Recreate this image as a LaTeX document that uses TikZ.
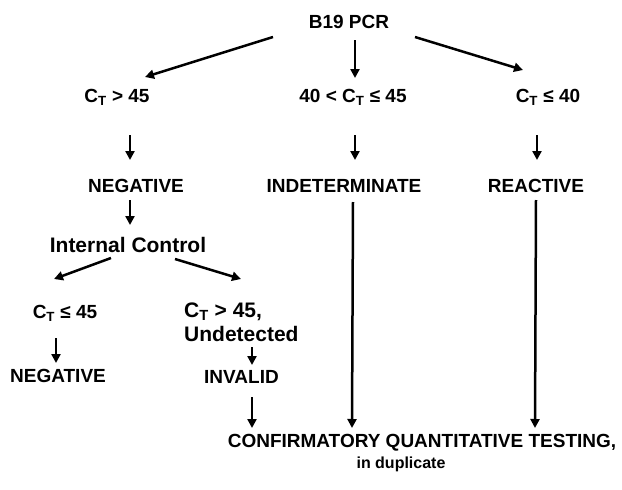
\documentclass[tikz,border=0pt]{standalone}
\usepackage{fontspec}
\setmainfont{Liberation Sans}
\usetikzlibrary{arrows.meta}
\newcommand{\ct}{C\textsubscript{T}}
\begin{document}
\begin{tikzpicture}[x=1pt,y=-1pt,
  lbl/.style={font=\fontsize{19}{24}\selectfont\bfseries, inner sep=0pt, anchor=base},
  widelbl/.style={lbl, font=\fontsize{21}{24}\selectfont\bfseries},
  arr/.style={line width=2.5pt, -{Triangle[length=9pt,width=9pt]}}]
\useasboundingbox[fill=white] (0,0) rectangle (622,490);
% nodes
\node[lbl] (pcr) at (349,28) {B19 PCR};
\node[lbl] (ct1) at (117,102) {\ct{} > 45};
\node[lbl] (ct2) at (353,102) {40 < \ct{} ≤ 45};
\node[lbl] (ct3) at (548,102) {\ct{} ≤ 40};
\node[lbl] (neg) at (136,192) {NEGATIVE};
\node[lbl] (ind) at (344,192) {INDETERMINATE};
\node[lbl] (rea) at (536,192) {REACTIVE};
\node[widelbl] (ic) at (128,252) {Internal Control};
\node[lbl] (ct4) at (65,318) {\ct{} ≤ 45};
\node[widelbl, anchor=north west, align=left] (ct5) at (184,303) {\ct{} > 45,\\Undetected};
\node[lbl] (neg2) at (58,382) {NEGATIVE};
\node[lbl] (inv) at (241.5,383) {INVALID};
\node[lbl] (conf) at (422,447) {CONFIRMATORY QUANTITATIVE TESTING,};
\node[lbl, font=\fontsize{16}{20}\selectfont\bfseries] (dup) at (401,468) {in duplicate};
% connectors
\draw[arr] ([shift={(-76,9)}]pcr.base) -- ([shift={(28,-25)}]ct1.base);
\draw[arr] ([shift={(6,12)}]pcr.base) -- ([shift={(2,-24)}]ct2.base);
\draw[arr] ([shift={(66,9)}]pcr.base) -- ([shift={(-25,-32)}]ct3.base);
\draw[arr] ([shift={(13,33)}]ct1.base) -- ([shift={(-6,-32)}]neg.base);
\draw[arr] ([shift={(2,33)}]ct2.base) -- ([shift={(11,-32)}]ind.base);
\draw[arr] ([shift={(-11,33)}]ct3.base) -- ([shift={(1,-32)}]rea.base);
\draw[arr] ([shift={(-6,8)}]neg.base) -- ([shift={(2,-27)}]ic.base);
\draw[arr] ([shift={(-17,6)}]ic.base) -- ([shift={(-11,-39)}]ct4.base);
\draw[arr] ([shift={(47,7)}]ic.base) -- ([shift={(57,-24)}]ct5.north west);
\draw[arr] ([shift={(-9,20)}]ct4.base) -- ([shift={(-2,-19)}]neg2.base);
\draw[arr] ([shift={(68,44)}]ct5.north west) -- ([shift={(10.5,-18)}]inv.base);
\draw[arr] ([shift={(10.5,14)}]inv.base) -- ([shift={(-170,-19)}]conf.base);
\draw[arr] ([shift={(9,10)}]ind.base) -- ([shift={(-70,-19)}]conf.base);
\draw[arr] ([shift={(0,8)}]rea.base) -- ([shift={(113,-19)}]conf.base);
\end{tikzpicture}
\end{document}
